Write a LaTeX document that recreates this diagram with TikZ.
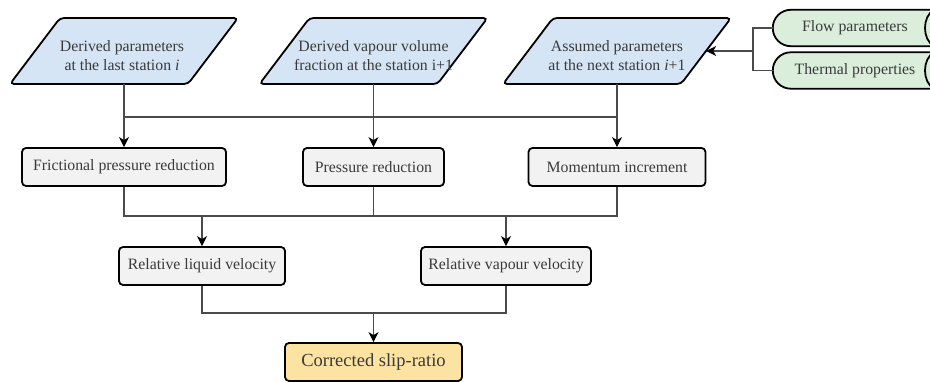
\documentclass[tikz,border=0pt]{standalone}
\usepackage{fontspec}
\setmainfont{Liberation Serif}
\usetikzlibrary{arrows.meta,calc}
\definecolor{pblue}{HTML}{D5E5F5}
\definecolor{pgreen}{HTML}{DAEEDB}
\definecolor{pgrey}{HTML}{F2F2F2}
\definecolor{pyellow}{HTML}{FCE3A2}
\definecolor{txt}{HTML}{3A3A3A}
\definecolor{ln}{HTML}{4A4A4A}
\newcommand\myparal[2]{%
  \path[shapeline,fill=pblue] (#1-114,#2+33) -- (#1-64,#2-33) -- (#1+114,#2-33) -- (#1+64,#2+33) -- cycle;}
\begin{document}
\begin{tikzpicture}[x=1pt,y=-1pt,
  shapeline/.style={draw=black,line width=1.8pt,rounded corners=4pt},
  txtfont/.style={font=\fontsize{15.8}{19}\selectfont, text=txt},
  box/.style={shapeline, txtfont, minimum height=38pt, inner sep=0pt, fill=pgrey},
  ptext/.style={minimum width=178pt, minimum height=66pt, inner sep=0pt},
  plabel/.style={txtfont, align=center, inner sep=0pt},
  gtext/.style={txtfont, minimum width=164pt, minimum height=36pt, inner sep=0pt},
  conn/.style={draw=ln, line width=1.1pt},
  arr/.style={conn, -{Stealth[length=10pt,width=10pt,inset=3pt,black]}}]
\useasboundingbox (0,0) rectangle (930,382);
\clip (0,0) rectangle (930,382);
% parallelograms
\myparal{124}{51}
\myparal{373.5}{51}
\myparal{617}{51}
\node[ptext] (p1) at (124,51) {};
\node[ptext] (p2) at (373.5,51) {};
\node[ptext] (p3) at (617,51) {};
\node[plabel] at ($(p1)+(-2,5)$) {Derived parameters\\at the last station \textit{i}};
\node[plabel] at ($(p2)+(0,5)$) {Derived vapour volume\\fraction at the station i+1};
\node[plabel] at ($(p3)+(0,5)$) {Assumed parameters\\at the next station \textit{i}+1};
% green storage shapes
\node[gtext] (g1) at (855,28) {};
\node[gtext] (g2) at (855,70.5) {};
\path[shapeline,fill=pgreen,rounded corners=18pt] ($(g1.north east)+(20,0)$) -- (g1.north west) -- (g1.south west) -- ($(g1.south east)+(20,0)$);
\path[shapeline,fill=pgreen,rounded corners=18pt] ($(g2.north east)+(20,0)$) -- (g2.north west) -- (g2.south west) -- ($(g2.south east)+(20,0)$);
\draw[line width=1.8pt] (934,10) .. controls (922,16) and (922,40) .. (934,46);
\draw[line width=1.8pt] (934,52.5) .. controls (922,58.5) and (922,82.5) .. (934,88.5);
\node[gtext] at (g1) {Flow parameters};
\node[gtext] at (g2) {Thermal properties};
% boxes
\node[box, minimum width=204pt] (r1) at (124,167) {Frictional pressure reduction};
\node[box, minimum width=141pt] (r2) at (373.5,167) {Pressure reduction};
\node[box, minimum width=177pt] (r3) at (617,167) {Momentum increment};
\node[box, minimum width=166pt] (q1) at (202,266) {Relative liquid velocity};
\node[box, minimum width=170pt] (q2) at (506,266) {Relative vapour velocity};
\node[box, minimum width=177pt, fill=pyellow, font=\fontsize{18.5}{22}\selectfont] (fin) at (373.5,362) {Corrected slip-ratio};
% connectors
\coordinate (jn) at (753,51);
\coordinate (b1) at (0,117);
\coordinate (b2) at (0,216);
\coordinate (b3) at (0,313);
\draw[conn] (g1.west) -| (jn) |- (g2.west);
\draw[arr] (jn) -- (p3.east);
\draw[conn] (p1.south) -- (p1.south |- b1) -- (p3.south |- b1) -- (p3.south);
\draw[conn] (p2.south) -- (p2.south |- b1);
\draw[arr] (p1.south |- b1) -- (r1.north);
\draw[arr] (p2.south |- b1) -- (r2.north);
\draw[arr] (p3.south |- b1) -- (r3.north);
\draw[conn] (r1.south) -- (r1.south |- b2) -- (r3.south |- b2) -- (r3.south);
\draw[conn] (r2.south) -- (r2.south |- b2);
\draw[arr] (q1.north |- b2) -- (q1.north);
\draw[arr] (q2.north |- b2) -- (q2.north);
\draw[conn] (q1.south) -- (q1.south |- b3) -- (q2.south |- b3) -- (q2.south);
\draw[arr] (fin.north |- b3) -- (fin.north);
\end{tikzpicture}
\end{document}
